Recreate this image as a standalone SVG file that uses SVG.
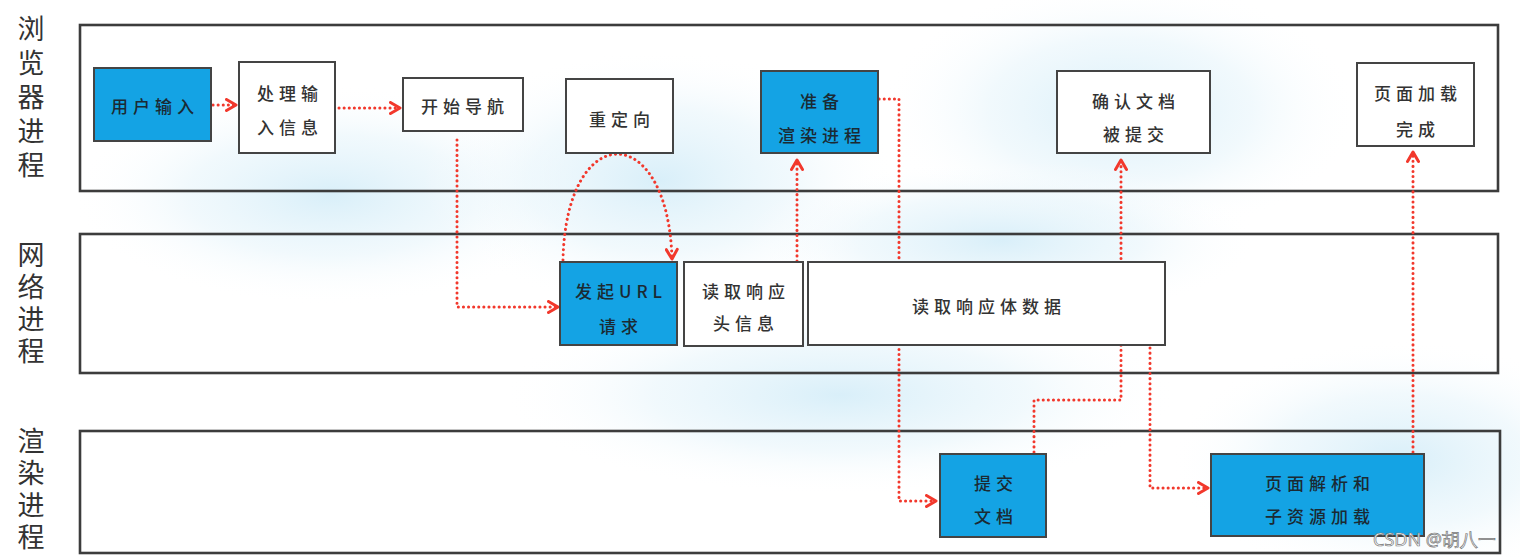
<svg xmlns="http://www.w3.org/2000/svg" width="1520" height="557" viewBox="0 0 1520 557">
<defs>
<radialGradient id="glow" cx="50%" cy="50%" r="50%">
<stop offset="0%" stop-color="#d2ecf8" stop-opacity="0.85"/>
<stop offset="55%" stop-color="#e0f2fa" stop-opacity="0.45"/>
<stop offset="100%" stop-color="#ffffff" stop-opacity="0"/>
</radialGradient>
<marker id="arr" viewBox="0 0 14 14" refX="11.5" refY="7" markerWidth="14" markerHeight="14" markerUnits="userSpaceOnUse" orient="auto">
<path d="M2,1.5 L11.5,7 L2,12.5" fill="none" stroke="#f2382c" stroke-width="3" stroke-linecap="round" stroke-linejoin="round"/>
</marker>
<style>
.lane{fill:none;stroke:#3c3c3c;stroke-width:2.6}
.box{stroke:#444;stroke-width:2}
.w{fill:#ffffff}
.b{fill:#14a3e4}
.lbl{font-family:"Noto Sans CJK SC","Noto Sans",sans-serif;font-size:27px;fill:#333;writing-mode:vertical-rl;text-anchor:start}
.t{font-family:"Noto Sans CJK SC","Noto Sans",sans-serif;font-size:17px;font-weight:500;fill:#333;text-anchor:middle;dominant-baseline:central;letter-spacing:5px}
.tb{fill:#1b2a33}
.c{fill:none;stroke:#f2382c;stroke-width:3;stroke-dasharray:0.1 5;stroke-linecap:round;stroke-linejoin:round}
.wm{font-family:"Noto Sans","Liberation Sans",sans-serif;font-size:18px;fill:#ffffff;stroke:#777;stroke-width:0.7}
</style>
</defs>
<rect x="0" y="0" width="1520" height="557" fill="#ffffff"/>
<g id="background-glow">
<ellipse cx="330" cy="195" rx="260" ry="110" fill="url(#glow)"/>
<ellipse cx="660" cy="180" rx="240" ry="130" fill="url(#glow)"/>
<ellipse cx="840" cy="395" rx="340" ry="100" fill="url(#glow)"/>
<ellipse cx="1120" cy="110" rx="240" ry="130" fill="url(#glow)"/>
<ellipse cx="1400" cy="460" rx="230" ry="120" fill="url(#glow)"/>
<ellipse cx="1000" cy="240" rx="260" ry="80" fill="url(#glow)"/>
</g>
<g id="lanes">
<rect class="lane" x="80" y="25" width="1418" height="166"/>
<rect class="lane" x="80" y="234" width="1418" height="139"/>
<rect class="lane" x="80" y="431" width="1420" height="122"/>
</g>
<g id="lane-labels">
<text class="lbl" x="31" y="15" letter-spacing="7">浏览器进程</text>
<text class="lbl" x="31" y="241" letter-spacing="5">网络进程</text>
<text class="lbl" x="31" y="427" letter-spacing="5">渲染进程</text>
</g>
<g id="connectors">
<path class="c" d="M213,105 L236,105" marker-end="url(#arr)"/>
<path class="c" d="M339,108 L400,108" marker-end="url(#arr)"/>
<path class="c" d="M457,140 V307 H558" marker-end="url(#arr)"/>
<path class="c" d="M563,260 C566,119 668,119 672,259" marker-end="url(#arr)"/>
<path class="c" d="M797,261 V160" marker-end="url(#arr)"/>
<path class="c" d="M874,99 H899 V501 H936" marker-end="url(#arr)"/>
<path class="c" d="M1034,452 V400 H1121 V160" marker-end="url(#arr)"/>
<path class="c" d="M1150,348 V488 H1208" marker-end="url(#arr)"/>
<path class="c" d="M1413,452 V152" marker-end="url(#arr)"/>
</g>
<g id="n-user-input">
<rect class="box b" x="94" y="68" width="117" height="73"/>
<text class="t tb" x="155" y="105">用户输入</text>
</g>
<g id="n-process-input">
<rect class="box w" x="239" y="62" width="96" height="91"/>
<text class="t" x="290" y="92">处理输</text>
<text class="t" x="290" y="126">入信息</text>
</g>
<g id="n-start-nav">
<rect class="box w" x="403" y="78" width="120" height="53"/>
<text class="t" x="465" y="105">开始导航</text>
</g>
<g id="n-redirect">
<rect class="box w" x="566" y="79" width="107" height="74"/>
<text class="t" x="622" y="118">重定向</text>
</g>
<g id="n-prepare-renderer">
<rect class="box b" x="761" y="71" width="117" height="82"/>
<text class="t tb" x="822" y="100">准备</text>
<text class="t tb" x="822" y="134">渲染进程</text>
</g>
<g id="n-confirm-doc">
<rect class="box w" x="1057" y="71" width="153" height="82"/>
<text class="t" x="1136" y="100">确认文档</text>
<text class="t" x="1136" y="133">被提交</text>
</g>
<g id="n-page-loaded">
<rect class="box w" x="1357" y="63" width="117" height="83"/>
<text class="t" x="1418" y="92">页面加载</text>
<text class="t" x="1418" y="128">完成</text>
</g>
<g id="n-url-request">
<rect class="box b" x="560" y="262" width="117" height="83"/>
<text class="t tb" x="621" y="290">发起URL</text>
<text class="t tb" x="621" y="325">请求</text>
</g>
<g id="n-read-header">
<rect class="box w" x="684" y="262" width="119" height="84"/>
<text class="t" x="746" y="290">读取响应</text>
<text class="t" x="746" y="322">头信息</text>
</g>
<g id="n-read-body">
<rect class="box w" x="808" y="262" width="357" height="83"/>
<text class="t" x="989" y="305">读取响应体数据</text>
</g>
<g id="n-commit-doc">
<rect class="box b" x="940" y="454" width="106" height="83"/>
<text class="t tb" x="996" y="482">提交</text>
<text class="t tb" x="996" y="515">文档</text>
</g>
<g id="n-parse-page">
<rect class="box b" x="1211" y="454" width="213" height="82"/>
<text class="t tb" x="1320" y="482">页面解析和</text>
<text class="t tb" x="1320" y="515">子资源加载</text>
</g>
<text class="wm" x="1373" y="546">CSDN @胡八一</text>
</svg>
